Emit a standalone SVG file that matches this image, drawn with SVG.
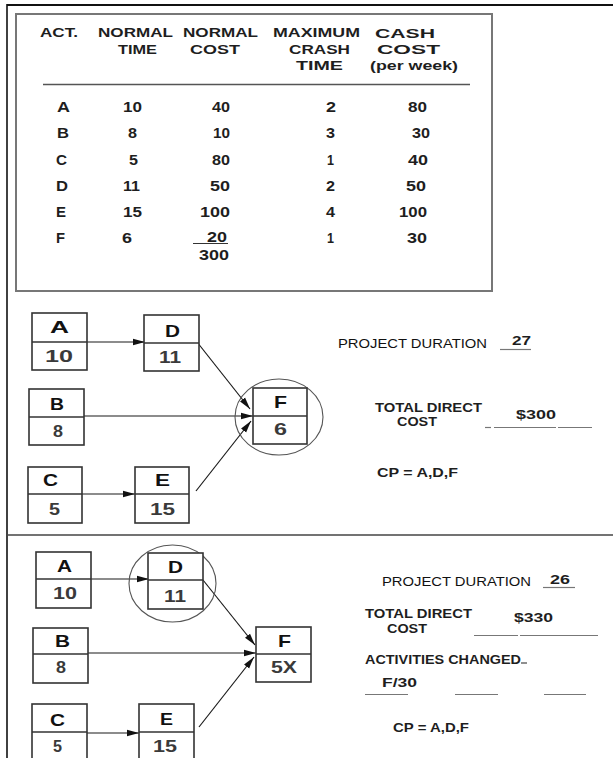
<svg xmlns="http://www.w3.org/2000/svg" width="613" height="758" viewBox="0 0 613 758">
<style>
text{font-family:"Liberation Sans",Arial,sans-serif;font-weight:bold;fill:#1e1e1e}
.h{font-size:13px}
.d{font-size:14.5px}
.bl{font-size:17px;fill:#111}
.bn{font-size:17px;fill:#3a3a3a}
.r{font-size:12.5px}
.rn{font-size:13px;font-weight:normal;fill:#111}
.box{fill:#fff;stroke:#333;stroke-width:1.6}
.div{stroke:#333;stroke-width:1.4}
.edge{stroke:#1a1a1a;stroke-width:1.2;fill:none}
.ul{stroke:#777;stroke-width:1.2}
.circ{fill:none;stroke:#555;stroke-width:1.1}
</style>
<defs>
<marker id="ah" markerUnits="userSpaceOnUse" markerWidth="13" markerHeight="8" refX="12" refY="4" orient="auto">
<path d="M0,0.8 L12,4 L0,7.2 z" fill="#111"/>
</marker>
</defs>
<rect width="613" height="758" fill="#fff"/>
<g id="frame">
<line x1="7" y1="5" x2="613" y2="5" stroke="#111" stroke-width="2"/>
<line x1="7" y1="4" x2="7" y2="758" stroke="#111" stroke-width="1.6"/>
<line x1="7" y1="535" x2="613" y2="535" stroke="#444" stroke-width="1.6"/>
</g>
<g id="table">
<rect x="16" y="14" width="476" height="277" fill="none" stroke="#777" stroke-width="2"/>
<text class="h" x="40" y="37" textLength="38" lengthAdjust="spacingAndGlyphs">ACT.</text>
<text class="h" x="98" y="37" textLength="75" lengthAdjust="spacingAndGlyphs">NORMAL</text>
<text class="h" x="118" y="54" textLength="39" lengthAdjust="spacingAndGlyphs">TIME</text>
<text class="h" x="183" y="37" textLength="75" lengthAdjust="spacingAndGlyphs">NORMAL</text>
<text class="h" x="190" y="54" textLength="50" lengthAdjust="spacingAndGlyphs">COST</text>
<text class="h" x="273" y="37" textLength="87" lengthAdjust="spacingAndGlyphs">MAXIMUM</text>
<text class="h" x="289" y="54" textLength="61" lengthAdjust="spacingAndGlyphs">CRASH</text>
<text class="h" x="296" y="70" textLength="47" lengthAdjust="spacingAndGlyphs">TIME</text>
<text class="h" x="375" y="38" textLength="60" lengthAdjust="spacingAndGlyphs">CASH</text>
<text class="h" x="377" y="54" textLength="63" lengthAdjust="spacingAndGlyphs">COST</text>
<text class="h" x="370" y="70" textLength="88" lengthAdjust="spacingAndGlyphs">(per week)</text>
<line x1="43" y1="84.5" x2="470" y2="84.5" stroke="#555" stroke-width="1.5"/>
<text class="d" x="57" y="112" textLength="13" lengthAdjust="spacingAndGlyphs">A</text>
<text class="d" x="57" y="138" textLength="12" lengthAdjust="spacingAndGlyphs">B</text>
<text class="d" x="56" y="165" textLength="11" lengthAdjust="spacingAndGlyphs">C</text>
<text class="d" x="56" y="191" textLength="12" lengthAdjust="spacingAndGlyphs">D</text>
<text class="d" x="56" y="217" textLength="10" lengthAdjust="spacingAndGlyphs">E</text>
<text class="d" x="56" y="243" textLength="9" lengthAdjust="spacingAndGlyphs">F</text>
<text class="d" x="123" y="112" textLength="19" lengthAdjust="spacingAndGlyphs">10</text>
<text class="d" x="128" y="138" textLength="9" lengthAdjust="spacingAndGlyphs">8</text>
<text class="d" x="129" y="165" textLength="9" lengthAdjust="spacingAndGlyphs">5</text>
<text class="d" x="123" y="191" textLength="17" lengthAdjust="spacingAndGlyphs">11</text>
<text class="d" x="123" y="217" textLength="19" lengthAdjust="spacingAndGlyphs">15</text>
<text class="d" x="122" y="243" textLength="10" lengthAdjust="spacingAndGlyphs">6</text>
<text class="d" x="212" y="112" textLength="18" lengthAdjust="spacingAndGlyphs">40</text>
<text class="d" x="213" y="138" textLength="17" lengthAdjust="spacingAndGlyphs">10</text>
<text class="d" x="212" y="165" textLength="18" lengthAdjust="spacingAndGlyphs">80</text>
<text class="d" x="210" y="191" textLength="20" lengthAdjust="spacingAndGlyphs">50</text>
<text class="d" x="200" y="217" textLength="30" lengthAdjust="spacingAndGlyphs">100</text>
<text class="d" x="207" y="242" textLength="20" lengthAdjust="spacingAndGlyphs">20</text>
<line x1="193" y1="243.5" x2="228" y2="243.5" stroke="#333" stroke-width="1.2"/>
<text class="d" x="199" y="260" textLength="30" lengthAdjust="spacingAndGlyphs">300</text>
<text class="d" x="326" y="112" textLength="10" lengthAdjust="spacingAndGlyphs">2</text>
<text class="d" x="326" y="138" textLength="9" lengthAdjust="spacingAndGlyphs">3</text>
<text class="d" x="327" y="165" textLength="7" lengthAdjust="spacingAndGlyphs">1</text>
<text class="d" x="326" y="191" textLength="9" lengthAdjust="spacingAndGlyphs">2</text>
<text class="d" x="326" y="217" textLength="9" lengthAdjust="spacingAndGlyphs">4</text>
<text class="d" x="327" y="243" textLength="7" lengthAdjust="spacingAndGlyphs">1</text>
<text class="d" x="408" y="112" textLength="19" lengthAdjust="spacingAndGlyphs">80</text>
<text class="d" x="412" y="138" textLength="18" lengthAdjust="spacingAndGlyphs">30</text>
<text class="d" x="408" y="165" textLength="20" lengthAdjust="spacingAndGlyphs">40</text>
<text class="d" x="406" y="191" textLength="20" lengthAdjust="spacingAndGlyphs">50</text>
<text class="d" x="399" y="217" textLength="28" lengthAdjust="spacingAndGlyphs">100</text>
<text class="d" x="407" y="243" textLength="20" lengthAdjust="spacingAndGlyphs">30</text>
</g>

<g id="s1-edges">
<line class="edge" x1="87" y1="342" x2="145" y2="342" marker-end="url(#ah)"/>
<line class="edge" x1="197" y1="342" x2="250" y2="409" marker-end="url(#ah)"/>
<line class="edge" x1="84" y1="416" x2="253" y2="416" marker-end="url(#ah)"/>
<line class="edge" x1="196" y1="491" x2="251" y2="421" marker-end="url(#ah)"/>
<line class="edge" x1="82" y1="494" x2="135" y2="494" marker-end="url(#ah)"/>
<ellipse class="circ" cx="279" cy="417" rx="44" ry="38"/>
</g>
<g id="s1-A"><rect class="box" x="32" y="313" width="55" height="57"/><line class="div" x1="32" y1="342" x2="87" y2="342"/>
<text class="bl" x="50" y="333" textLength="19" lengthAdjust="spacingAndGlyphs">A</text>
<text class="bn" x="45" y="362" textLength="28" lengthAdjust="spacingAndGlyphs">10</text></g>
<g id="s1-D"><rect class="box" x="144" y="315" width="55" height="56"/><line class="div" x1="144" y1="343" x2="199" y2="343"/>
<text class="bl" x="165" y="337" textLength="15" lengthAdjust="spacingAndGlyphs">D</text>
<text class="bn" x="159" y="363" textLength="22" lengthAdjust="spacingAndGlyphs">11</text></g>
<g id="s1-B"><rect class="box" x="29" y="389" width="55" height="56"/><line class="div" x1="29" y1="417" x2="84" y2="417"/>
<text class="bl" x="50" y="410" textLength="14" lengthAdjust="spacingAndGlyphs">B</text>
<text class="bn" x="53" y="437" textLength="10" lengthAdjust="spacingAndGlyphs">8</text></g>
<g id="s1-F"><rect class="box" x="253" y="388" width="54" height="56"/><line class="div" x1="253" y1="416" x2="307" y2="416"/>
<text class="bl" x="274" y="408" textLength="13" lengthAdjust="spacingAndGlyphs">F</text>
<text class="bn" x="274" y="435" textLength="13" lengthAdjust="spacingAndGlyphs">6</text></g>
<g id="s1-C"><rect class="box" x="28" y="467" width="54" height="56"/><line class="div" x1="28" y1="494" x2="82" y2="494"/>
<text class="bl" x="43" y="486" textLength="15" lengthAdjust="spacingAndGlyphs">C</text>
<text class="bn" x="49" y="515" textLength="11" lengthAdjust="spacingAndGlyphs">5</text></g>
<g id="s1-E"><rect class="box" x="135" y="467" width="54" height="56"/><line class="div" x1="135" y1="494" x2="189" y2="494"/>
<text class="bl" x="155" y="486" textLength="15" lengthAdjust="spacingAndGlyphs">E</text>
<text class="bn" x="150" y="515" textLength="25" lengthAdjust="spacingAndGlyphs">15</text></g>

<g id="s1-info">
<text class="rn" x="338" y="348" textLength="149" lengthAdjust="spacingAndGlyphs">PROJECT DURATION</text>
<text class="r" x="512" y="345" textLength="19" lengthAdjust="spacingAndGlyphs">27</text>
<line class="ul" x1="500" y1="349.5" x2="531" y2="349.5" stroke="#aaa"/>
<text class="r" x="375" y="412" textLength="107" lengthAdjust="spacingAndGlyphs">TOTAL DIRECT</text>
<text class="r" x="397" y="426" textLength="40" lengthAdjust="spacingAndGlyphs">COST</text>
<text class="r" x="516" y="419" textLength="40" lengthAdjust="spacingAndGlyphs">$300</text>
<line class="ul" x1="485" y1="427.5" x2="491" y2="427.5"/>
<line class="ul" x1="494" y1="427.5" x2="556" y2="427.5"/>
<line class="ul" x1="558" y1="427.5" x2="592" y2="427.5"/>
<text class="r" x="377" y="477" textLength="81" lengthAdjust="spacingAndGlyphs">CP = A,D,F</text>
</g>

<g id="s2-edges">
<line class="edge" x1="91" y1="579" x2="149" y2="579" marker-end="url(#ah)"/>
<line class="edge" x1="203" y1="580" x2="255" y2="645" marker-end="url(#ah)"/>
<line class="edge" x1="88" y1="653" x2="256" y2="653" marker-end="url(#ah)"/>
<line class="edge" x1="199" y1="727" x2="254" y2="657" marker-end="url(#ah)"/>
<line class="edge" x1="87" y1="733" x2="139" y2="733" marker-end="url(#ah)"/>
<ellipse class="circ" cx="172.5" cy="583.5" rx="43.5" ry="38.5"/>
</g>
<g id="s2-A"><rect class="box" x="36" y="552" width="55" height="56"/><line class="div" x1="36" y1="579" x2="91" y2="579"/>
<text class="bl" x="57" y="572" textLength="15" lengthAdjust="spacingAndGlyphs">A</text>
<text class="bn" x="53" y="599" textLength="24" lengthAdjust="spacingAndGlyphs">10</text></g>
<g id="s2-D"><rect class="box" x="148" y="553" width="55" height="56"/><line class="div" x1="148" y1="580" x2="203" y2="580"/>
<text class="bl" x="168" y="573" textLength="15" lengthAdjust="spacingAndGlyphs">D</text>
<text class="bn" x="164" y="602" textLength="22" lengthAdjust="spacingAndGlyphs">11</text></g>
<g id="s2-B"><rect class="box" x="33" y="628" width="55" height="55"/><line class="div" x1="33" y1="654" x2="88" y2="654"/>
<text class="bl" x="55" y="647" textLength="15" lengthAdjust="spacingAndGlyphs">B</text>
<text class="bn" x="56" y="673" textLength="10" lengthAdjust="spacingAndGlyphs">8</text></g>
<g id="s2-F"><rect class="box" x="256" y="627" width="55" height="55"/><line class="div" x1="256" y1="654" x2="311" y2="654"/>
<text class="bl" x="278" y="647" textLength="13" lengthAdjust="spacingAndGlyphs">F</text>
<text class="bn" x="271" y="673" textLength="26" lengthAdjust="spacingAndGlyphs">5X</text></g>
<g id="s2-C"><rect class="box" x="32" y="704" width="55" height="60"/><line class="div" x1="32" y1="732" x2="87" y2="732"/>
<text class="bl" x="50" y="726" textLength="15" lengthAdjust="spacingAndGlyphs">C</text>
<text class="bn" x="53" y="752" textLength="9" lengthAdjust="spacingAndGlyphs">5</text></g>
<g id="s2-E"><rect class="box" x="139" y="704" width="55" height="60"/><line class="div" x1="139" y1="732" x2="194" y2="732"/>
<text class="bl" x="160" y="725" textLength="13" lengthAdjust="spacingAndGlyphs">E</text>
<text class="bn" x="153" y="752" textLength="24" lengthAdjust="spacingAndGlyphs">15</text></g>

<g id="s2-info">
<text class="rn" x="382" y="586" textLength="149" lengthAdjust="spacingAndGlyphs">PROJECT DURATION</text>
<text class="r" x="550" y="584" textLength="20" lengthAdjust="spacingAndGlyphs">26</text>
<line class="ul" x1="543" y1="587.5" x2="575" y2="587.5" stroke="#aaa"/>
<text class="r" x="365" y="618" textLength="107" lengthAdjust="spacingAndGlyphs">TOTAL DIRECT</text>
<text class="r" x="387" y="633" textLength="40" lengthAdjust="spacingAndGlyphs">COST</text>
<text class="r" x="514" y="622" textLength="39" lengthAdjust="spacingAndGlyphs">$330</text>
<line class="ul" x1="474" y1="635.5" x2="518" y2="635.5"/>
<line class="ul" x1="520" y1="635.5" x2="598" y2="635.5"/>
<text class="r" x="365" y="664" textLength="156" lengthAdjust="spacingAndGlyphs">ACTIVITIES CHANGED</text>
<line x1="521" y1="663" x2="527" y2="663" stroke="#444" stroke-width="1.2"/>
<text class="r" x="382" y="687" textLength="35" lengthAdjust="spacingAndGlyphs">F/30</text>
<line class="ul" x1="365" y1="694.5" x2="408" y2="694.5"/>
<line class="ul" x1="455" y1="694.5" x2="498" y2="694.5"/>
<line class="ul" x1="544" y1="694.5" x2="586" y2="694.5"/>
<text class="r" x="393" y="732" textLength="76" lengthAdjust="spacingAndGlyphs">CP = A,D,F</text>
</g>
</svg>
